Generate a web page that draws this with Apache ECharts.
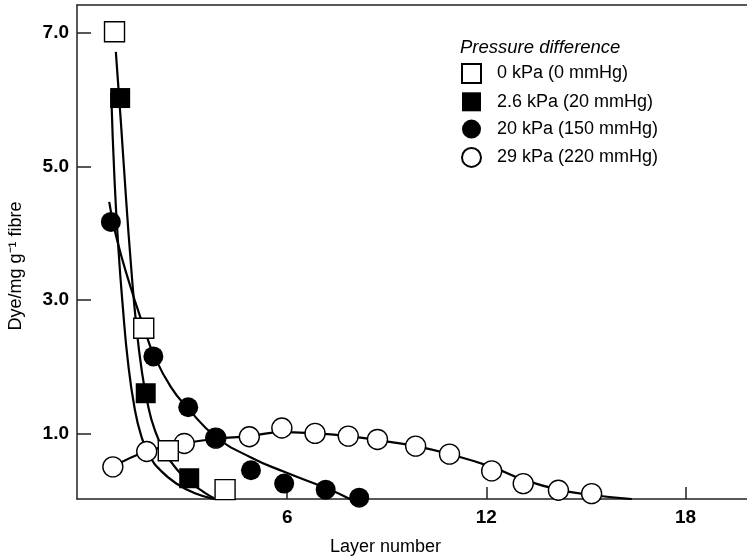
<!DOCTYPE html>
<html>
<head>
<meta charset="utf-8">
<script src="https://cdn.jsdelivr.net/npm/echarts@6/dist/echarts.min.js"></script>
<style>
  html, body { margin: 0; padding: 0; background: #fff; }
  #chart { width: 747px; height: 556px; }
</style>
</head>
<body>
<div id="chart"></div>
<script>
// measured points, [layer, dye]
var sq0 = [[0.80, 7.01], [1.68, 2.58], [2.42, 0.75], [4.13, 0.17]];
var sq26 = [[0.97, 6.02], [1.74, 1.61], [3.05, 0.34]];
var circ20 = [[0.69, 4.17], [1.97, 2.16], [3.02, 1.40], [3.85, 0.94], [4.91, 0.46],
  [5.91, 0.26], [7.16, 0.17], [8.17, 0.05]];
var circ29 = [[0.75, 0.51], [1.77, 0.74], [2.90, 0.86], [3.85, 0.94], [4.86, 0.96],
  [5.84, 1.09], [6.84, 1.01], [7.84, 0.97], [8.72, 0.92], [9.87, 0.82], [10.89, 0.70],
  [12.16, 0.45], [13.11, 0.26], [14.17, 0.16], [15.17, 0.11]];

// fitted curves
var fitLeft = [[0.70, 6.1], [0.80, 4.8], [0.92, 3.75], [1.05, 2.9], [1.2, 2.1], [1.4, 1.4],
  [1.6, 0.98], [1.85, 0.68], [2.2, 0.45], [2.7, 0.25], [3.2, 0.12], [3.8, 0.03]];
var fitRight = [[0.84, 6.71], [1.0, 5.6], [1.15, 4.5], [1.3, 3.5], [1.45, 2.65], [1.62, 1.95],
  [1.8, 1.45], [2.0, 1.08], [2.3, 0.74], [2.7, 0.46], [3.1, 0.27], [3.5, 0.13], [3.8, 0.04]];
var fit20 = [[0.64, 4.47], [0.85, 3.95], [1.25, 3.25], [1.68, 2.6], [1.97, 2.2], [2.5, 1.7],
  [3.02, 1.38], [3.85, 0.96], [4.91, 0.65], [5.89, 0.44], [7.19, 0.19], [7.89, 0.03]];
var fit29 = [[0.75, 0.51], [1.77, 0.74], [2.90, 0.86], [3.85, 0.93], [4.86, 0.97], [5.84, 1.03],
  [6.84, 1.01], [7.84, 0.97], [8.72, 0.91], [9.87, 0.82], [10.89, 0.70], [12.16, 0.51],
  [13.11, 0.32], [14.17, 0.17], [15.17, 0.09], [16.38, 0.03]];

var xTicks = [6, 12, 18];
var yTicks = [1, 3, 5, 7];
var names = ['0 kPa (0 mmHg)', '2.6 kPa (20 mmHg)', '20 kPa (150 mmHg)', '29 kPa (220 mmHg)'];

var font = '"Liberation Sans", Arial, sans-serif';
var ink = '#000';

var chart = echarts.init(document.getElementById('chart'), null, { renderer: 'canvas' });

function curve(data) {
  return {
    type: 'line',
    data: data,
    smooth: 0.5,
    showSymbol: false,
    silent: true,
    lineStyle: { color: ink, width: 2.2 },
    z: 2
  };
}

function dots(name, data, symbol, filled) {
  return {
    name: name,
    type: 'scatter',
    data: data,
    symbol: symbol,
    symbolSize: 20,
    itemStyle: {
      opacity: 1,
      color: filled ? '#000' : '#fff',
      borderColor: '#000',
      borderWidth: filled ? 0 : 1.4
    },
    emphasis: { disabled: true },
    z: 3
  };
}

var option = {
  animation: false,
  textStyle: { fontFamily: font },
  title: {
    text: 'Pressure difference',
    left: 455,
    top: 33,
    textStyle: { fontFamily: font, fontStyle: 'italic', fontWeight: 'normal', fontSize: 18.5, color: ink }
  },
  legend: {
    data: names,
    orient: 'vertical',
    left: 461,
    top: 63,
    padding: 0,
    itemWidth: 19,
    itemHeight: 19,
    itemGap: 8.3,
    textStyle: { fontFamily: font, fontSize: 18, color: ink, padding: [0, 0, 0, 11] }
  },
  grid: { left: 77, top: 5, right: 0, bottom: 57, outerBoundsMode: 'none', containLabel: false },
  xAxis: [{
    type: 'value',
    min: -0.33,
    max: 19.85,
    name: 'Layer number',
    nameLocation: 'middle',
    nameGap: 39,
    nameTextStyle: { fontFamily: font, fontSize: 18, color: ink, padding: [0, 53, 0, 0] },
    axisLine: { show: true, onZero: false, lineStyle: { color: '#222', width: 1.5 } },
    axisTick: { show: true, inside: true, length: 12, customValues: xTicks, lineStyle: { color: '#222', width: 1.5 } },
    axisLabel: { customValues: xTicks, margin: 9, fontFamily: font, fontWeight: 'bold', fontSize: 19, color: ink },
    splitLine: { show: false }
  }, {
    type: 'value',
    position: 'top',
    min: -0.33,
    max: 19.85,
    axisLine: { show: true, onZero: false, lineStyle: { color: '#222', width: 1.5 } },
    axisTick: { show: false },
    axisLabel: { show: false },
    splitLine: { show: false }
  }],
  yAxis: {
    type: 'value',
    min: 0.03,
    max: 7.41,
    name: 'Dye/mg g\u207B\u00B9 fibre',
    nameLocation: 'middle',
    nameRotate: 90,
    nameGap: 52,
    nameTextStyle: { fontFamily: font, fontSize: 18, color: ink, padding: [0, 28, 0, 0] },
    axisLine: { show: true, onZero: false, lineStyle: { color: '#222', width: 1.5 } },
    axisTick: { show: true, inside: true, length: 14, customValues: yTicks, lineStyle: { color: '#222', width: 1.5 } },
    axisLabel: {
      customValues: yTicks,
      margin: 8,
      fontFamily: font,
      fontWeight: 'bold',
      fontSize: 19,
      color: ink,
      formatter: function (v) { return v.toFixed(1); }
    },
    splitLine: { show: false }
  },
  series: [
    curve(fitLeft),
    curve(fitRight),
    curve(fit20),
    curve(fit29),
    dots(names[3], circ29, 'circle', false),
    dots(names[2], circ20, 'circle', true),
    dots(names[0], sq0, 'rect', false),
    dots(names[1], sq26, 'rect', true)
  ]
};

chart.setOption(option);
</script>
</body>
</html>
